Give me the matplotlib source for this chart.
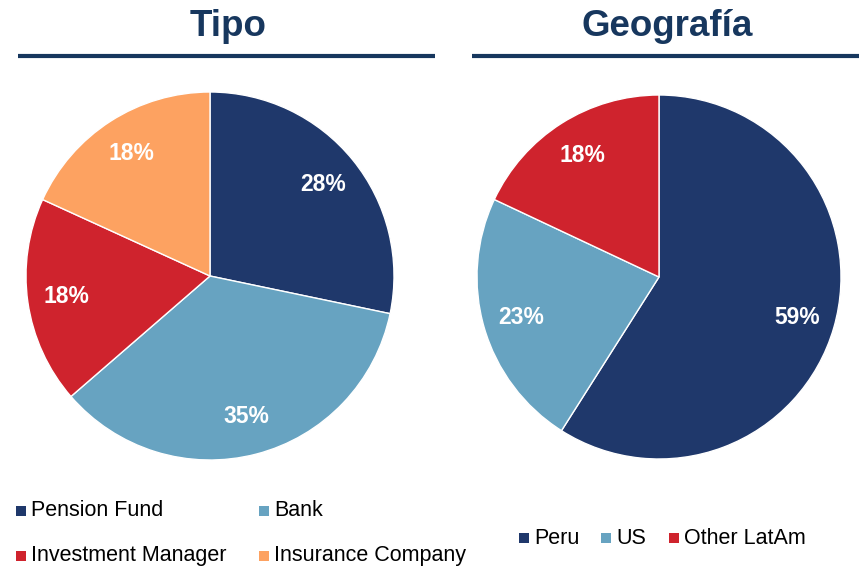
import matplotlib
matplotlib.use('Agg')
import matplotlib.pyplot as plt
from matplotlib.patches import Rectangle
from matplotlib.lines import Line2D

# Data
tipo_labels = ['Pension Fund', 'Bank', 'Investment Manager', 'Insurance Company']
tipo_values = [28, 35, 18, 18]
tipo_colors = ['#1F386B', '#67A3C1', '#CF232D', '#FDA261']

geo_labels = ['Peru', 'US', 'Other LatAm']
geo_values = [59, 23, 18]
geo_colors = ['#1F386B', '#67A3C1', '#CF232D']

W, H = 859, 566
title_color = '#17375E'
plt.rcParams['font.family'] = ['Liberation Sans', 'DejaVu Sans']

fig = plt.figure(figsize=(W / 100, H / 100), dpi=100)


def px_axes(cx, cy, r):
    # axes box in pixel coords (y measured from top)
    return fig.add_axes([(cx - r) / W, (H - cy - r) / H, 2 * r / W, 2 * r / H])


def draw_pie(ax, values, colors):
    wedges, texts, autotexts = ax.pie(values, colors=colors, startangle=90, counterclock=False,
                                      autopct=lambda p: '%d%%' % round(p * sum(values) / 100),
                                      pctdistance=0.79, radius=1,
                                      wedgeprops=dict(edgecolor='white', linewidth=1))
    for t in autotexts:
        t.set_color('white')
        t.set_fontsize(16.5)
        t.set_fontweight('bold')
    ax.set_xlim(-1, 1)
    ax.set_ylim(-1, 1)
    ax.axis('off')
    return wedges


ax1 = px_axes(210, 276, 184)
draw_pie(ax1, tipo_values, tipo_colors)
ax2 = px_axes(659, 277, 182)
draw_pie(ax2, geo_values, geo_colors)

# Titles and underlines
for text, x, x0, x1 in [('Tipo', 228, 18, 435), ('Geografía', 667, 472, 859)]:
    fig.text(x / W, 1 - 27 / H, text, ha='center', va='center', fontsize=26.5,
             fontweight='bold', color=title_color)
    fig.add_artist(Line2D([x0 / W, x1 / W], [1 - 56 / H, 1 - 56 / H], color=title_color,
                          linewidth=3, solid_capstyle='butt'))


def legend_item(x, y, label, color):
    s = 10
    fig.add_artist(Rectangle(((x - s / 2) / W, 1 - (y + s / 2) / H), s / W, s / H,
                             facecolor=color, edgecolor='none'))
    fig.text((x + 10) / W, 1 - y / H, label, ha='left', va='center', fontsize=15.5, color='black')


tipo_pos = [(21, 511), (264, 511), (21, 556), (264, 556)]
for (x, y), lab, col in zip(tipo_pos, tipo_labels, tipo_colors):
    legend_item(x, y, lab, col)

geo_pos = [(524, 538), (606, 538), (674, 538)]
for (x, y), lab, col in zip(geo_pos, geo_labels, geo_colors):
    legend_item(x, y, lab, col)

fig.savefig('out.png', dpi=100)
